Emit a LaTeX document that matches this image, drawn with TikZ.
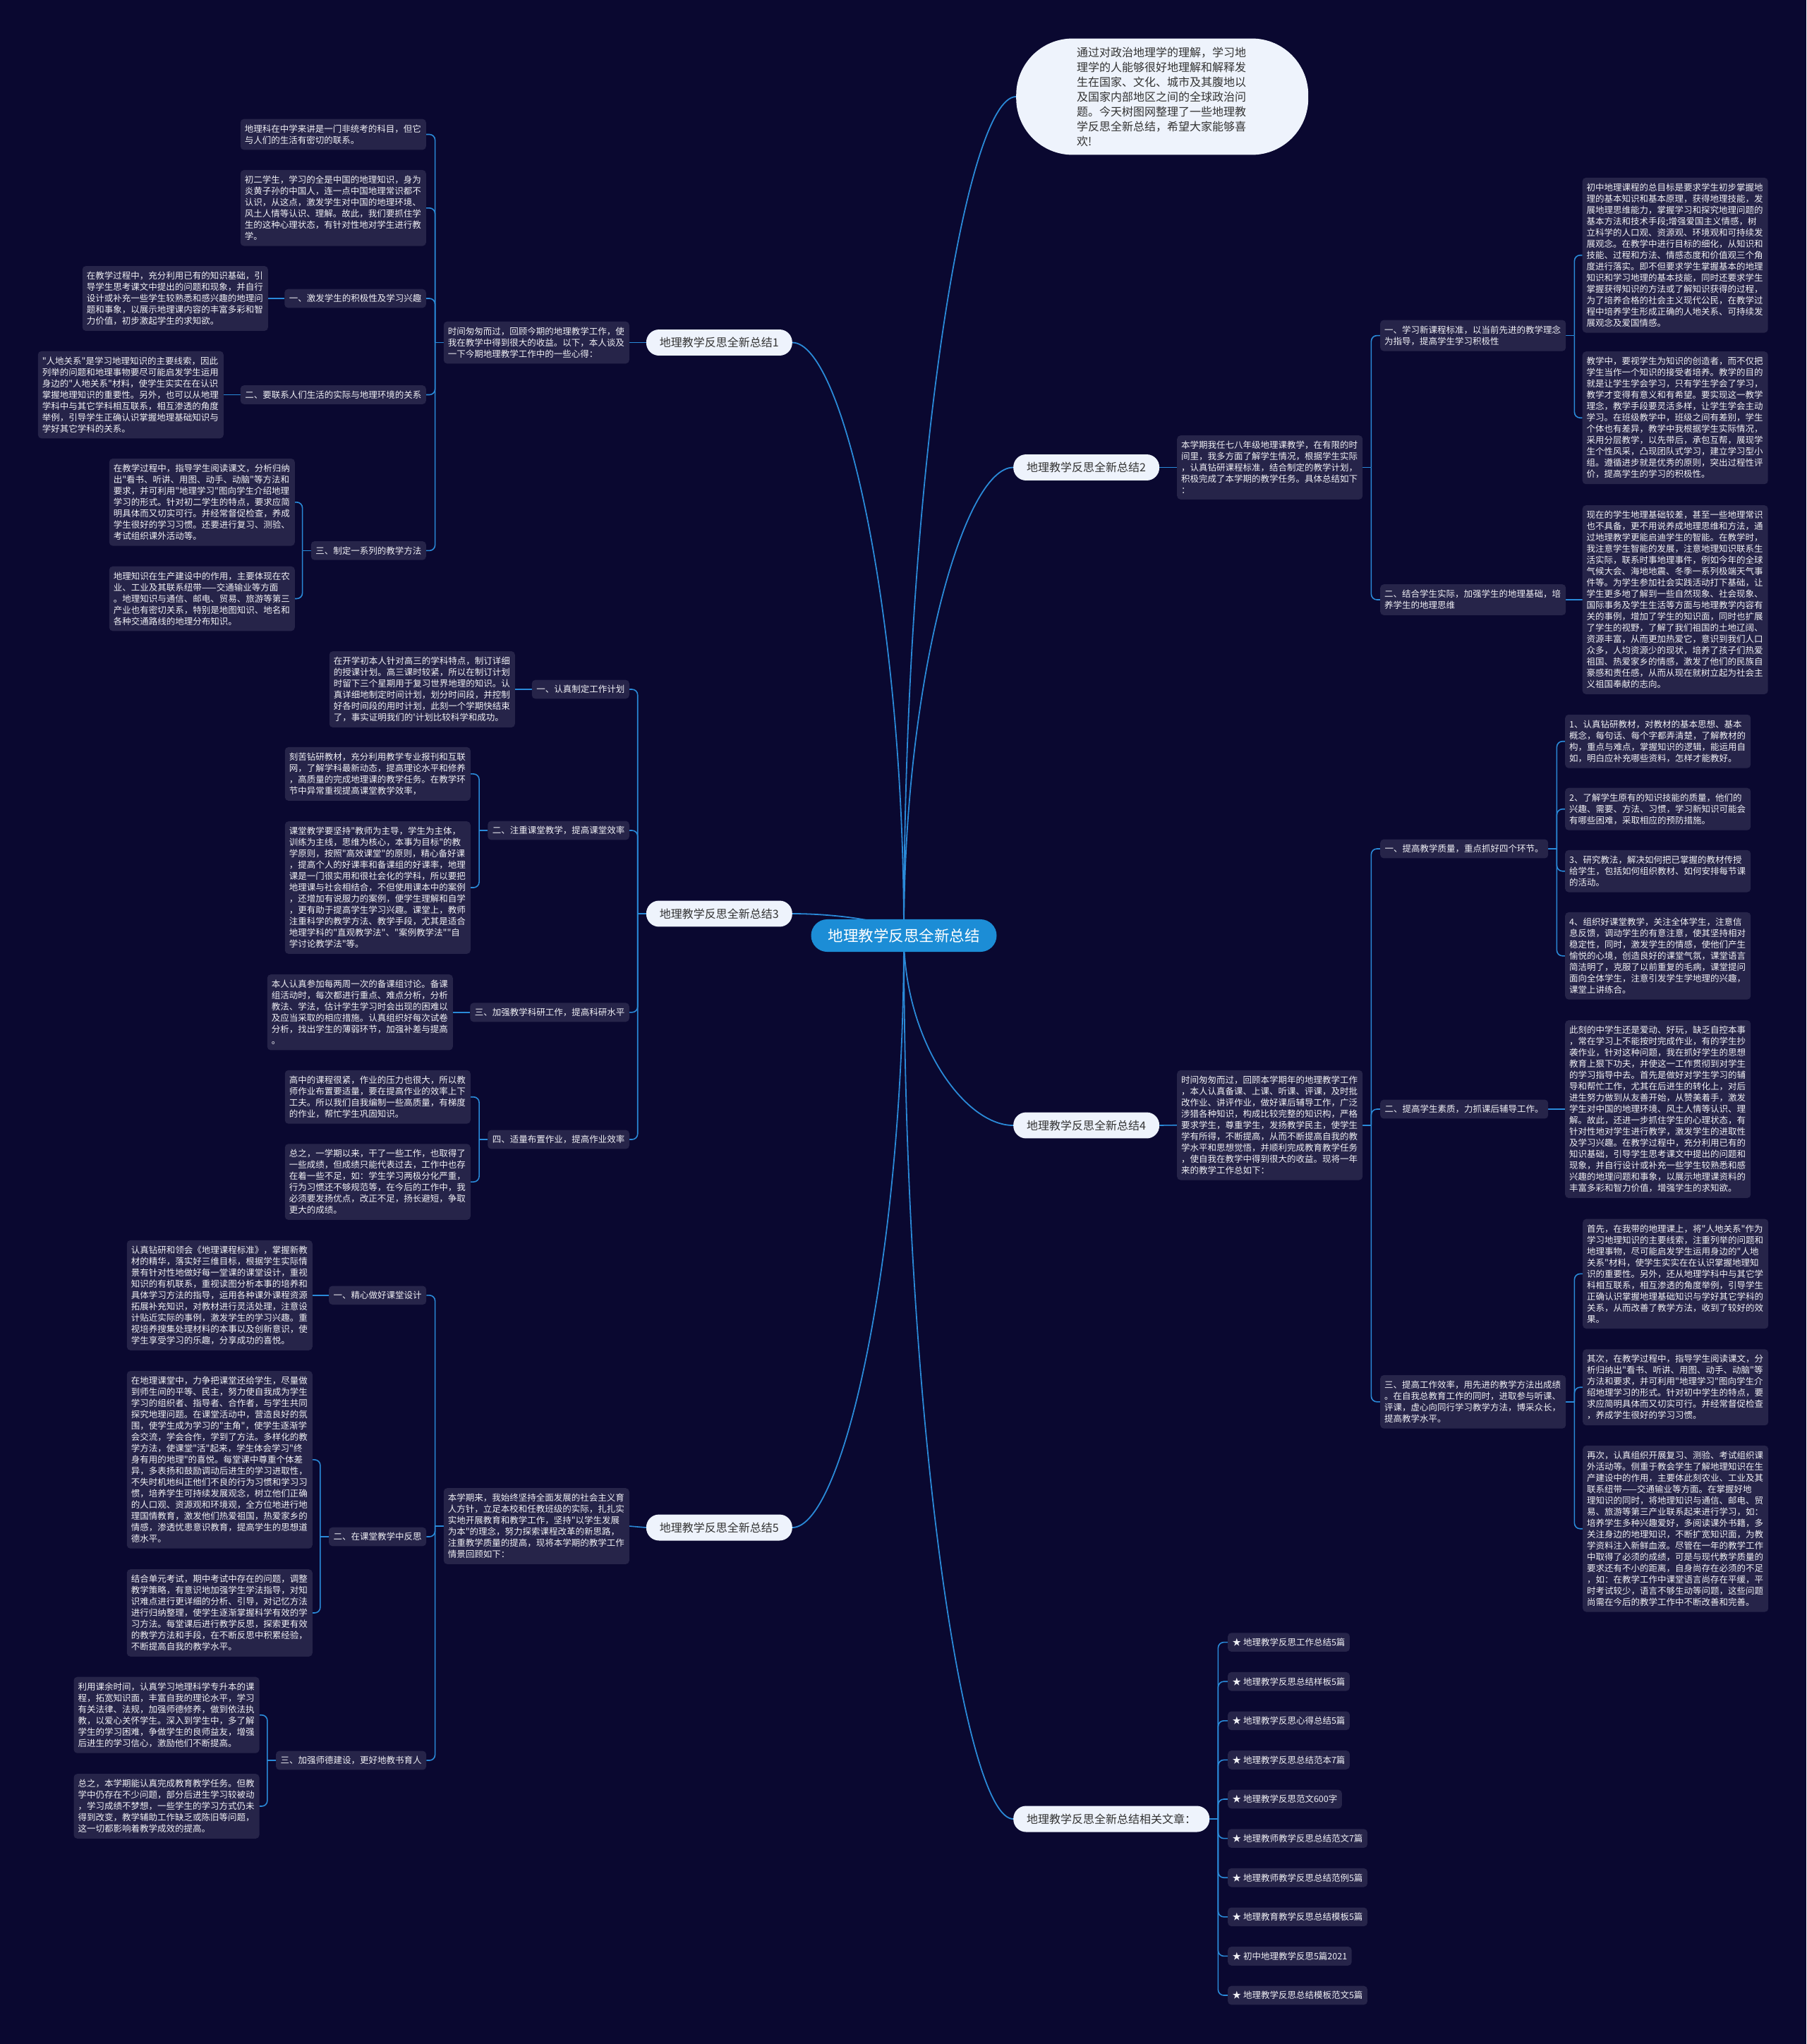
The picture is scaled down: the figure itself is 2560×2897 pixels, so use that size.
\documentclass[tikz,border=0pt]{standalone}
\usepackage{fontspec}
\newfontfamily\cjkf{Noto Sans CJK SC}
\usetikzlibrary{calc}
\pgfdeclarelayer{bgl}
\pgfdeclarelayer{lines}
\pgfsetlayers{bgl,lines,main}
\definecolor{bgc}{HTML}{0A0830}
\definecolor{boxc}{HTML}{262449}
\definecolor{linec}{HTML}{2A8AD8}
\definecolor{centc}{HTML}{1C8DD6}
\definecolor{brc}{HTML}{EEF3FC}
\definecolor{txtd}{HTML}{333333}
\definecolor{txtl}{HTML}{F0F0F5}
\tikzset{
  leaf/.style={fill=boxc, text=txtl, font={\cjkf\fontsize{12.5}{16}\selectfont}, text width=251pt, align=left, inner xsep=6pt, inner ysep=8pt, rounded corners=5pt},
  sub/.style={fill=boxc, text=txtl, font={\cjkf\fontsize{12.5}{16}\selectfont}, inner xsep=6.5pt, inner ysep=7.5pt, rounded corners=5pt},
  branch/.style={fill=brc, text=txtd, font={\cjkf\fontsize{16}{20}\selectfont}, inner xsep=19pt, inner ysep=11pt, rounded corners=18pt},
  bubble/.style={fill=brc, text=txtd, font={\cjkf\fontsize{16}{21}\selectfont}, text width=242pt, align=left, inner xsep=86pt, inner ysep=12pt, rounded corners=80pt},
  center/.style={fill=centc, text=white, font={\cjkf\fontsize{21.5}{26}\selectfont}, inner xsep=24pt, inner ysep=13pt, rounded corners=23pt},
  conn/.style={draw=linec, line width=1.6pt, rounded corners=8pt},
  mainconn/.style={draw=linec, line width=1.8pt},
}
\newcommand\lbrk[2]{\draw[conn] (#1.west) -- ++(-12,0) coordinate (jj); \foreach \q in {#2}{\draw[conn] (jj) |- (\q.east);}}
\newcommand\rbrk[2]{\draw[conn] (#1.east) -- ++(12,0) coordinate (jj); \foreach \q in {#2}{\draw[conn] (jj) |- (\q.west);}}
\newcommand\mcurve[1]{\draw[mainconn] (C.center) .. controls ($(C.center)!0.55!(C.center|-#1)$) and ($(#1)!0.45!(C.center|-#1)$) .. (#1);}
\begin{document}
\begin{tikzpicture}[x=1pt,y=-1pt]
\begin{pgfonlayer}{bgl}
\fill[bgc] (0,0) rectangle (2560,2897);
\end{pgfonlayer}
\useasboundingbox (0,0) rectangle (2560,2897);

% center and branches
\node[center] (C) at (1281,1326) {地理教学反思全新总结};
\node[bubble, anchor=west] (TOP) at (1440,137) {通过对政治地理学的理解，学习地\\理学的人能够很好地理解和解释发\\生在国家、文化、城市及其腹地以\\及国家内部地区之间的全球政治问\\题。今天树图网整理了一些地理教\\学反思全新总结，希望大家能够喜\\欢!};
\node[branch, anchor=east] (B1) at (1123,485.5) {地理教学反思全新总结1};
\node[branch, anchor=west] (B2) at (1436,662.5) {地理教学反思全新总结2};
\node[branch, anchor=east] (B3) at (1123,1295) {地理教学反思全新总结3};
\node[branch, anchor=west] (B4) at (1436,1595) {地理教学反思全新总结4};
\node[branch, anchor=east] (B5) at (1123,2165) {地理教学反思全新总结5};
\node[branch, anchor=west] (BR) at (1436,2578) {地理教学反思全新总结相关文章：};

% branch 1
\node[leaf, anchor=east] (I1) at (892,485.5) {时间匆匆而过，回顾今期的地理教学工作，使\\我在教学中得到很大的收益。以下，本人谈及\\一下今期地理教学工作中的一些心得：};
\node[leaf, anchor=east] (L1a) at (604,190.5) {地理科在中学来讲是一门非统考的科目，但它\\与人们的生活有密切的联系。};
\node[leaf, anchor=east] (L1b) at (604,294.8) {初二学生，学习的全是中国的地理知识，身为\\炎黄子孙的中国人，连一点中国地理常识都不\\认识，从这点，激发学生对中国的地理环境、\\风土人情等认识、理解。故此，我们要抓住学\\生的这种心理状态，有针对性地对学生进行教\\学。};
\node[sub, anchor=east] (S1a) at (604,423) {一、激发学生的积极性及学习兴趣};
\node[leaf, anchor=east] (L1c) at (380,423) {在教学过程中，充分利用已有的知识基础，引\\导学生思考课文中提出的问题和现象，并自行\\设计或补充一些学生较熟悉和感兴趣的地理问\\题和事象，以展示地理课内容的丰富多彩和智\\力价值，初步激起学生的求知欲。};
\node[sub, anchor=east] (S1b) at (604,559.5) {二、要联系人们生活的实际与地理环境的关系};
\node[leaf, anchor=east] (L1d) at (317,559.5) {"人地关系"是学习地理知识的主要线索，因此\\列举的问题和地理事物要尽可能启发学生运用\\身边的"人地关系"材料，使学生实实在在认识\\掌握地理知识的重要性。另外，也可以从地理\\学科中与其它学科相互联系，相互渗透的角度\\举例，引导学生正确认识掌握地理基础知识与\\学好其它学科的关系。};
\node[sub, anchor=east] (S1c) at (604,780.4) {三、制定一系列的教学方法};
\node[leaf, anchor=east] (L1e) at (418,711.8) {在教学过程中，指导学生阅读课文，分析归纳\\出"看书、听讲、用图、动手、动脑"等方法和\\要求，并可利用"地理学习"图向学生介绍地理\\学习的形式。针对初二学生的特点，要求应简\\明具体而又切实可行。并经常督促检查，养成\\学生很好的学习习惯。还要进行复习、测验、\\考试组织课外活动等。};
\node[leaf, anchor=east] (L1f) at (418,848.5) {地理知识在生产建设中的作用，主要体现在农\\业、工业及其联系纽带——交通输业等方面\\。地理知识与通信、邮电、贸易、旅游等第三\\产业也有密切关系，特别是地图知识、地名和\\各种交通路线的地理分布知识。};

% branch 2
\node[leaf, anchor=west] (I2) at (1668,662.5) {本学期我任七八年级地理课教学，在有限的时\\间里，我多方面了解学生情况，根据学生实际\\，认真钻研课程标准，结合制定的教学计划，\\积极完成了本学期的教学任务。具体总结如下\\：};
\node[leaf, anchor=west] (S2a) at (1956,475.6) {一、学习新课程标准，以当前先进的教学理念\\为指导，提高学生学习积极性};
\node[leaf, anchor=west] (L2a) at (2242.5,361.7) {初中地理课程的总目标是要求学生初步掌握地\\理的基本知识和基本原理，获得地理技能，发\\展地理思维能力，掌握学习和探究地理问题的\\基本方法和技术手段;增强爱国主义情感，树\\立科学的人口观、资源观、环境观和可持续发\\展观念。在教学中进行目标的细化，从知识和\\技能、过程和方法、情感态度和价值观三个角\\度进行落实。即不但要求学生掌握基本的地理\\知识和学习地理的基本技能，同时还要求学生\\掌握获得知识的方法或了解知识获得的过程，\\为了培养合格的社会主义现代公民，在教学过\\程中培养学生形成正确的人地关系、可持续发\\展观念及爱国情感。};
\node[leaf, anchor=west] (L2b) at (2242.5,592.2) {教学中，要视学生为知识的创造者，而不仅把\\学生当作一个知识的接受者培养。教学的目的\\就是让学生学会学习，只有学生学会了学习，\\教学才变得有意义和有希望。要实现这一教学\\理念，教学手段要灵活多样，让学生学会主动\\学习。在班级教学中，班级之间有差别，学生\\个体也有差异，教学中我根据学生实际情况，\\采用分层教学，以先带后，承包互帮，展现学\\生个性风采，凸现团队式学习，建立学习型小\\组。遵循进步就是优秀的原则，突出过程性评\\价，提高学生的学习的积极性。};
\node[leaf, anchor=west] (S2b) at (1956,850) {二、结合学生实际，加强学生的地理基础，培\\养学生的地理思维};
\node[leaf, anchor=west] (L2c) at (2242.5,850) {现在的学生地理基础较差，甚至一些地理常识\\也不具备，更不用说养成地理思维和方法，通\\过地理教学更能启迪学生的智能。在教学时，\\我注意学生智能的发展，注意地理知识联系生\\活实际，联系时事地理事件，例如今年的全球\\气候大会、海地地震、冬季一系列极端天气事\\件等。为学生参加社会实践活动打下基础，让\\学生更多地了解到一些自然现象、社会现象、\\国际事务及学生生活等方面与地理教学内容有\\关的事例，增加了学生的知识面，同时也扩展\\了学生的视野，了解了我们祖国的土地辽阔、\\资源丰富，从而更加热爱它，意识到我们人口\\众多，人均资源少的现状，培养了孩子们热爱\\祖国、热爱家乡的情感，激发了他们的民族自\\豪感和责任感，从而从现在就树立起为社会主\\义祖国奉献的志向。};

% branch 3
\node[sub, anchor=east] (S3a) at (892,977) {一、认真制定工作计划};
\node[leaf, anchor=east] (L3a) at (730,977) {在开学初本人针对高三的学科特点，制订详细\\的授课计划。高三课时较紧，所以在制订计划\\时留下三个星期用于复习世界地理的知识。认\\真详细地制定时间计划，划分时间段，并控制\\好各时间段的用时计划，此刻一个学期快结束\\了，事实证明我们的'计划比较科学和成功。};
\node[sub, anchor=east] (S3b) at (892,1177) {二、注重课堂教学，提高课堂效率};
\node[leaf, anchor=east] (L3b) at (667,1096.9) {刻苦钻研教材，充分利用教学专业报刊和互联\\网，了解学科最新动态，提高理论水平和修养\\，高质量的完成地理课的教学任务。在教学环\\节中异常重视提高课堂教学效率，};
\node[leaf, anchor=east] (L3c) at (667,1258) {课堂教学要坚持"教师为主导，学生为主体，\\训练为主线，思维为核心，本事为目标"的教\\学原则，按照"高效课堂"的原则，精心备好课\\，提高个人的好课率和备课组的好课率，地理\\课是一门很实用和很社会化的学科，所以要把\\地理课与社会相结合，不但使用课本中的案例\\，还增加有说服力的案例，便学生理解和自学\\，更有助于提高学生学习兴趣。课堂上，教师\\注重科学的教学方法、教学手段，尤其是适合\\地理学科的"直观教学法"、"案例教学法""自\\学讨论教学法"等。};
\node[sub, anchor=east] (S3c) at (892,1434.8) {三、加强教学科研工作，提高科研水平};
\node[leaf, anchor=east] (L3d) at (642,1434.8) {本人认真参加每两周一次的备课组讨论。备课\\组活动时，每次都进行重点、难点分析，分析\\教法、学法，估计学生学习时会出现的困难以\\及应当采取的相应措施。认真组织好每次试卷\\分析，找出学生的薄弱环节，加强补差与提高\\。};
\node[sub, anchor=east] (S3d) at (892,1615) {四、适量布置作业，提高作业效率};
\node[leaf, anchor=east] (L3e) at (667,1554.7) {高中的课程很紧，作业的压力也很大，所以教\\师作业布置要适量，要在提高作业的效率上下\\工夫。所以我们自我编制一些高质量，有梯度\\的作业，帮忙学生巩固知识。};
\node[leaf, anchor=east] (L3f) at (667,1675.1) {总之，一学期以来，干了一些工作，也取得了\\一些成绩，但成绩只能代表过去，工作中也存\\在着一些不足，如：学生学习两极分化严重，\\行为习惯还不够规范等，在今后的工作中，我\\必须要发扬优点，改正不足，扬长避短，争取\\更大的成绩。};

% branch 4
\node[leaf, anchor=west] (I4) at (1668,1594.7) {时间匆匆而过，回顾本学期年的地理教学工作\\，本人认真备课、上课、听课、评课，及时批\\改作业、讲评作业，做好课后辅导工作，广泛\\涉猎各种知识，构成比较完整的知识构，严格\\要求学生，尊重学生，发扬教学民主，使学生\\学有所得，不断提高，从而不断提高自我的教\\学水平和思想觉悟，并顺利完成教育教学任务\\，使自我在教学中得到很大的收益。现将一年\\来的教学工作总如下：};
\node[sub, anchor=west] (S4a) at (1956,1203) {一、提高教学质量，重点抓好四个环节。};
\node[leaf, anchor=west] (L4a) at (2218,1050.7) {1、认真钻研教材，对教材的基本思想、基本\\概念，每句话、每个字都弄清楚，了解教材的\\构，重点与难点，掌握知识的逻辑，能运用自\\如，明白应补充哪些资料，怎样才能教好。};
\node[leaf, anchor=west] (L4b) at (2218,1146.7) {2、了解学生原有的知识技能的质量，他们的\\兴趣、需要、方法、习惯，学习新知识可能会\\有哪些困难，采取相应的预防措施。};
\node[leaf, anchor=west] (L4c) at (2218,1234.7) {3、研究教法，解决如何把已掌握的教材传授\\给学生，包括如何组织教材、如何安排每节课\\的活动。};
\node[leaf, anchor=west] (L4d) at (2218,1354.8) {4、组织好课堂教学，关注全体学生，注意信\\息反馈，调动学生的有意注意，使其坚持相对\\稳定性，同时，激发学生的情感，使他们产生\\愉悦的心境，创造良好的课堂气氛，课堂语言\\简洁明了，克服了以前重复的毛病，课堂提问\\面向全体学生，注意引发学生学地理的兴趣，\\课堂上讲练合。};
\node[sub, anchor=west] (S4b) at (1956,1572) {二、提高学生素质，力抓课后辅导工作。};
\node[leaf, anchor=west] (L4e) at (2218,1572) {此刻的中学生还是爱动、好玩，缺乏自控本事\\，常在学习上不能按时完成作业，有的学生抄\\袭作业，针对这种问题，我在抓好学生的思想\\教育上狠下功夫，并使这一工作贯彻到对学生\\的学习指导中去。首先是做好对学生学习的辅\\导和帮忙工作，尤其在后进生的转化上，对后\\进生努力做到从友善开始，从赞美着手，激发\\学生对中国的地理环境、风土人情等认识、理\\解。故此，还进一步抓住学生的心理状态，有\\针对性地对学生进行教学，激发学生的进取性\\及学习兴趣。在教学过程中，充分利用已有的\\知识基础，引导学生思考课文中提出的问题和\\现象，并自行设计或补充一些学生较熟悉和感\\兴趣的地理问题和事象，以展示地理课资料的\\丰富多彩和智力价值，增强学生的求知欲。};
\node[leaf, anchor=west] (S4c) at (1956,1986.8) {三、提高工作效率，用先进的教学方法出成绩\\。在自我总教育工作的同时，进取参与听课、\\评课，虚心向同行学习教学方法，博采众长，\\提高教学水平。};
\node[leaf, anchor=west] (L4f) at (2243,1805.4) {首先，在我带的地理课上，将"人地关系"作为\\学习地理知识的主要线索，注重列举的问题和\\地理事物，尽可能启发学生运用身边的"人地\\关系"材料，使学生实实在在认识掌握地理知\\识的重要性。另外，还从地理学科中与其它学\\科相互联系，相互渗透的角度举例，引导学生\\正确认识掌握地理基础知识与学好其它学科的\\关系，从而改善了教学方法，收到了较好的效\\果。};
\node[leaf, anchor=west] (L4g) at (2243,1966.2) {其次，在教学过程中，指导学生阅读课文，分\\析归纳出"看书、听讲、用图、动手、动脑"等\\方法和要求，并可利用"地理学习"图向学生介\\绍地理学习的形式。针对初中学生的特点，要\\求应简明具体而又切实可行。并经常督促检查\\，养成学生很好的学习习惯。};
\node[leaf, anchor=west] (L4h) at (2243,2166.7) {再次，认真组织开展复习、测验、考试组织课\\外活动等。侧重于教会学生了解地理知识在生\\产建设中的作用，主要体此刻农业、工业及其\\联系纽带——交通输业等方面。在掌握好地\\理知识的同时，将地理知识与通信、邮电、贸\\易、旅游等第三产业联系起来进行学习，如：\\培养学生多种兴趣爱好，多阅读课外书籍，多\\关注身边的地理知识，不断扩宽知识面，为教\\学资料注入新鲜血液。尽管在一年的教学工作\\中取得了必须的成绩，可是与现代教学质量的\\要求还有不小的距离，自身尚存在必须的不足\\，如：在教学工作中课堂语言尚存在平缓，平\\时考试较少，语言不够生动等问题，这些问题\\尚需在今后的教学工作中不断改善和完善。};

% branch 5
\node[leaf, anchor=east] (I5) at (892,2163) {本学期来，我始终坚持全面发展的社会主义育\\人方针，立足本校和任教班级的实际，扎扎实\\实地开展教育和教学工作，坚持"以学生发展\\为本"的理念，努力探索课程改革的新思路，\\注重教学质量的提高，现将本学期的教学工作\\情景回顾如下：};
\node[sub, anchor=east] (S5a) at (604.3,1835.8) {一、精心做好课堂设计};
\node[leaf, anchor=east] (L5a) at (443,1835.8) {认真钻研和领会《地理课程标准》，掌握新教\\材的精华，落实好三维目标，根据学生实际情\\景有针对性地做好每一堂课的课堂设计，重视\\知识的有机联系，重视读图分析本事的培养和\\具体学习方法的指导，运用各种课外课程资源\\拓展补充知识，对教材进行灵活处理，注意设\\计贴近实际的事例，激发学生的学习兴趣。重\\视培养搜集处理材料的本事以及创新意识，使\\学生享受学习的乐趣，分享成功的喜悦。};
\node[sub, anchor=east] (S5b) at (604.3,2178) {二、在课堂教学中反思};
\node[leaf, anchor=east] (L5b) at (443,2068.9) {在地理课堂中，力争把课堂还给学生，尽量做\\到师生间的平等、民主，努力使自我成为学生\\学习的组织者、指导者、合作者，与学生共同\\探究地理问题。在课堂活动中，营造良好的氛\\围，使学生成为学习的"主角"，使学生逐渐学\\会交流，学会合作，学到了方法。多样化的教\\学方法，使课堂"活"起来，学生体会学习"终\\身有用的地理"的喜悦。每堂课中尊重个体差\\异，多表扬和鼓励调动后进生的学习进取性，\\不失时机地纠正他们不良的行为习惯和学习习\\惯，培养学生可持续发展观念，树立他们正确\\的人口观、资源观和环境观，全方位地进行地\\理国情教育，激发他们热爱祖国，热爱家乡的\\情感，渗透忧患意识教育，提高学生的思想道\\德水平。};
\node[leaf, anchor=east] (L5c) at (443,2286) {结合单元考试，期中考试中存在的问题，调整\\教学策略，有意识地加强学生学法指导，对知\\识难点进行更详细的分析、引导，对记忆方法\\进行归纳整理，使学生逐渐掌握科学有效的学\\习方法。每堂课后进行教学反思，探索更有效\\的教学方法和手段，在不断反思中积累经验，\\不断提高自我的教学水平。};
\node[sub, anchor=east] (S5c) at (604.3,2495) {三、加强师德建设，更好地教书育人};
\node[leaf, anchor=east] (L5d) at (367.7,2430.7) {利用课余时间，认真学习地理科学专升本的课\\程，拓宽知识面，丰富自我的理论水平，学习\\有关法律、法规，加强师德修养，做到依法执\\教，以爱心关怀学生。深入到学生中，多了解\\学生的学习困难，争做学生的良师益友，增强\\后进生的学习信心，激励他们不断提高。};
\node[leaf, anchor=east] (L5e) at (367.7,2560) {总之，本学期能认真完成教育教学任务。但教\\学中仍存在不少问题，部分后进生学习较被动\\，学习成绩不梦想，一些学生的学习方式仍未\\得到改变，教学辅助工作缺乏或陈旧等问题，\\这一切都影响着教学成效的提高。};

% related
\node[sub, anchor=west] (R1) at (1740,2327.6) {★ 地理教学反思工作总结5篇};
\node[sub, anchor=west] (R2) at (1740,2383.2) {★ 地理教学反思总结样板5篇};
\node[sub, anchor=west] (R3) at (1740,2438.8) {★ 地理教学反思心得总结5篇};
\node[sub, anchor=west] (R4) at (1740,2494.4) {★ 地理教学反思总结范本7篇};
\node[sub, anchor=west] (R5) at (1740,2550) {★ 地理教学反思范文600字};
\node[sub, anchor=west] (R6) at (1740,2605.6) {★ 地理教师教学反思总结范文7篇};
\node[sub, anchor=west] (R7) at (1740,2661.2) {★ 地理教师教学反思总结范例5篇};
\node[sub, anchor=west] (R8) at (1740,2716.8) {★ 地理教育教学反思总结模板5篇};
\node[sub, anchor=west] (R9) at (1740,2772.4) {★ 初中地理教学反思5篇2021};
\node[sub, anchor=west] (R10) at (1740,2828) {★ 地理教学反思总结模板范文5篇};

\begin{pgfonlayer}{lines}
\mcurve{TOP.west}
\mcurve{B1.east}
\mcurve{B2.west}
\mcurve{B3.east}
\mcurve{B4.west}
\mcurve{B5.east}
\mcurve{BR.west}
\draw[conn] (B1.west) -- (I1.east);
\draw[conn] (B2.east) -- (I2.west);
\draw[conn] (B4.east) -- (I4.west);
\draw[conn] (B5.west) -- (I5.east);
\lbrk{I1}{L1a,L1b,S1a,S1b,S1c}
\draw[conn] (S1a.west) -- (L1c.east);
\draw[conn] (S1b.west) -- (L1d.east);
\lbrk{S1c}{L1e,L1f}
\lbrk{B3}{S3a,S3b,S3c,S3d}
\draw[conn] (S3a.west) -- (L3a.east);
\lbrk{S3b}{L3b,L3c}
\draw[conn] (S3c.west) -- (L3d.east);
\lbrk{S3d}{L3e,L3f}
\lbrk{I5}{S5a,S5b,S5c}
\draw[conn] (S5a.west) -- (L5a.east);
\lbrk{S5b}{L5b,L5c}
\lbrk{S5c}{L5d,L5e}
\rbrk{I2}{S2a,S2b}
\rbrk{S2a}{L2a,L2b}
\draw[conn] (S2b.east) -- (L2c.west);
\rbrk{I4}{S4a,S4b,S4c}
\rbrk{S4a}{L4a,L4b,L4c,L4d}
\draw[conn] (S4b.east) -- (L4e.west);
\rbrk{S4c}{L4f,L4g,L4h}
\rbrk{BR}{R1,R2,R3,R4,R5,R6,R7,R8,R9,R10}
\end{pgfonlayer}
\end{tikzpicture}
\end{document}
